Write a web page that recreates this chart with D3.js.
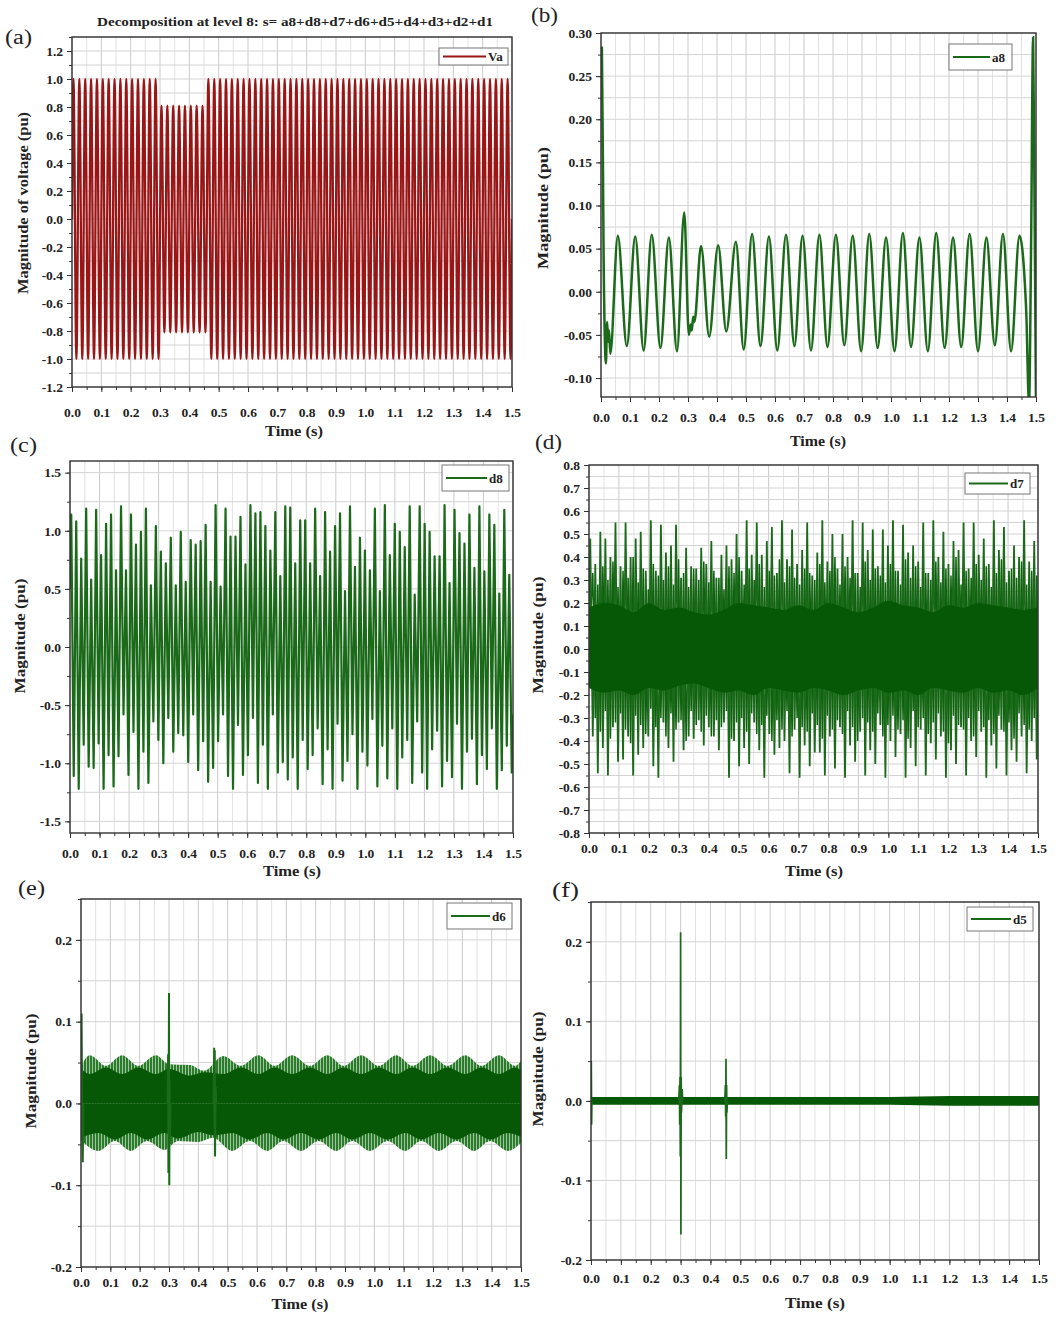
<!DOCTYPE html>
<html>
<head>
<meta charset="utf-8">
<script src="https://cdn.jsdelivr.net/npm/d3@7"></script>
<style>
  body { margin: 0; background: #fff; }
  svg { display: block; font-family: "Liberation Serif", "Times New Roman", serif; }
</style>
</head>
<body>
<svg id="fig" width="1062" height="1325"></svg>
<script>
// ---------- shared axis values ----------
const timeTicks = [0.0, 0.1, 0.2, 0.3, 0.4, 0.5, 0.6, 0.7, 0.8, 0.9, 1.0, 1.1, 1.2, 1.3, 1.4, 1.5];
const vaTicks = [-1.2, -1.0, -0.8, -0.6, -0.4, -0.2, 0.0, 0.2, 0.4, 0.6, 0.8, 1.0, 1.2];
const a8Ticks = [-0.10, -0.05, 0.00, 0.05, 0.10, 0.15, 0.20, 0.25, 0.30];
const d8Ticks = [-1.5, -1.0, -0.5, 0.0, 0.5, 1.0, 1.5];
const d7Ticks = [-0.8, -0.7, -0.6, -0.5, -0.4, -0.3, -0.2, -0.1, 0.0, 0.1, 0.2, 0.3, 0.4, 0.5, 0.6, 0.7, 0.8];
const d6Ticks = [-0.2, -0.1, 0.0, 0.1, 0.2];
const d5Ticks = [-0.2, -0.1, 0.0, 0.1, 0.2];

// ---------- (a) supply voltage Va: peak value of each 50 Hz cycle (sag 0.30-0.46 s) ----------
const vaAmp = [
  1, 1, 1, 1, 1, 1, 1, 1, 1, 1, 1, 1, 1, 1, 1,
  0.81, 0.81, 0.81, 0.81, 0.81, 0.81, 0.81, 0.81,
  1, 1, 1, 1, 1, 1, 1, 1, 1, 1, 1, 1, 1, 1, 1, 1, 1, 1, 1, 1, 1, 1, 1, 1, 1, 1,
  1, 1, 1, 1, 1, 1, 1, 1, 1, 1, 1, 1, 1, 1, 1, 1, 1, 1, 1, 1, 1, 1, 1, 1, 1, 1
];

// ---------- (b) approximation a8: turning points [time, value] ----------
const a8Points = [
  [0.000, 0.270], [0.003, 0.283], [0.009, 0.040], [0.017, -0.083], [0.021, -0.035], [0.025, -0.058],
  [0.028, -0.045], [0.032, -0.072], [0.058, 0.065], [0.089, -0.063], [0.118, 0.064], [0.147, -0.068],
  [0.175, 0.066], [0.205, -0.065], [0.234, 0.063], [0.262, -0.069], [0.287, 0.092], [0.303, -0.050],
  [0.309, -0.038], [0.313, -0.045], [0.318, -0.029], [0.322, -0.035], [0.345, 0.053], [0.373, -0.052],
  [0.404, 0.054], [0.432, -0.046], [0.465, 0.058], [0.492, -0.067], [0.521, 0.067], [0.550, -0.063],
  [0.579, 0.064], [0.608, -0.068], [0.638, 0.066], [0.667, -0.063], [0.695, 0.065], [0.724, -0.068],
  [0.753, 0.066], [0.781, -0.064], [0.810, 0.066], [0.839, -0.062], [0.868, 0.065], [0.897, -0.069],
  [0.925, 0.067], [0.954, -0.065], [0.983, 0.063], [1.012, -0.069], [1.041, 0.068], [1.069, -0.064],
  [1.098, 0.063], [1.127, -0.069], [1.156, 0.068], [1.185, -0.065], [1.214, 0.063], [1.242, -0.064],
  [1.271, 0.067], [1.300, -0.069], [1.329, 0.063], [1.358, -0.062], [1.386, 0.067], [1.414, -0.069],
  [1.443, 0.065], [1.466, -0.020], [1.476, -0.130], [1.483, 0.050], [1.490, 0.295], [1.495, 0.100],
  [1.500, -0.130]
];

// ---------- (c) detail d8: positive and negative peak of each cycle ----------
const d8Max = [
  1.14, 1.08, 0.76, 1.19, 0.58, 1.18, 0.79, 1.06, 1.14, 0.66, 1.21, 0.66, 1.14, 0.88, 0.99,
  1.19, 0.53, 1.04, 0.82, 0.72, 0.94, 0.53, 0.99, 0.56, 0.92, 0.88, 0.91, 1.05, 0.56, 1.22,
  0.52, 1.19, 0.95, 0.95, 1.12, 0.71, 1.22, 1.15, 1.16, 1.04, 0.83, 1.16, 0.61, 1.21,
  1.20, 0.72, 1.09, 1.09, 0.72, 1.19, 0.61, 1.16, 0.82, 1.04, 1.15, 0.48, 1.21, 0.69, 0.94,
  0.83, 0.66, 1.19, 0.48, 1.22, 0.79, 1.06, 0.99, 0.86, 1.21, 0.45, 1.21, 1.06, 0.99, 0.78,
  0.78, 1.22, 0.55, 1.18, 0.98, 0.89, 1.14, 0.68, 1.21, 0.65, 1.14, 1.05, 0.46, 1.18, 0.62
];
const d8Min = [
  -1.11, -1.22, -0.84, -1.03, -1.04, -0.83, -1.22, -0.93, -1.20, -0.94, -0.58, -1.10, -0.73, -1.22, -0.90,
  -1.17, -0.64, -0.80, -1.00, -0.61, -0.90, -0.74, -0.76, -0.99, -0.58, -1.06, -0.81, -1.16, -1.04, -0.81,
  -0.58, -1.11, -1.22, -0.67, -1.10, -0.93, -0.61, -1.17, -0.84, -1.22, -0.58, -1.08, -0.99, -1.14,
  -0.95, -1.22, -0.80, -1.05, -0.93, -0.70, -1.18, -0.88, -1.22, -0.66, -1.15, -0.98, -0.75, -1.22, -0.90,
  -1.02, -0.62, -1.20, -0.85, -1.13, -0.70, -1.22, -0.95, -0.80, -1.17, -0.64, -1.08, -1.22, -0.88, -0.72,
  -1.20, -0.98, -1.12, -0.66, -1.22, -0.90, -0.79, -1.18, -0.93, -1.05, -0.70, -1.22, -1.06, -0.85, -1.08
];

// ---------- (d) detail d7: main cycle peaks, in-between peaks, dense band around zero ----------
const d7Max = [
  0.48, 0.37, 0.51, 0.48, 0.40, 0.55, 0.36, 0.55, 0.40, 0.48, 0.51, 0.34, 0.56, 0.34, 0.54,
  0.42, 0.45, 0.54, 0.31, 0.44, 0.36, 0.35, 0.44, 0.37, 0.47, 0.31, 0.41, 0.45, 0.39, 0.50,
  0.34, 0.56, 0.41, 0.55, 0.41, 0.47, 0.53, 0.33, 0.56, 0.39, 0.52, 0.37, 0.43, 0.55, 0.32,
  0.42, 0.56, 0.38, 0.50, 0.35, 0.50, 0.40, 0.56, 0.33, 0.55, 0.43, 0.52, 0.36, 0.52, 0.45,
  0.56, 0.34, 0.54, 0.42, 0.45, 0.38, 0.55, 0.33, 0.56, 0.40, 0.51, 0.37, 0.47, 0.43, 0.55,
  0.35, 0.55, 0.41, 0.48, 0.37, 0.56, 0.43, 0.53, 0.34, 0.45, 0.40, 0.56, 0.38, 0.47
];
const d7Min = [
  -0.38, -0.54, -0.43, -0.55, -0.34, -0.49, -0.48, -0.38, -0.55, -0.46, -0.43, -0.38, -0.51, -0.56, -0.32,
  -0.43, -0.49, -0.32, -0.44, -0.38, -0.39, -0.31, -0.42, -0.34, -0.38, -0.44, -0.32, -0.56, -0.40, -0.51,
  -0.43, -0.50, -0.32, -0.44, -0.56, -0.37, -0.46, -0.43, -0.40, -0.54, -0.35, -0.56, -0.42, -0.51, -0.45,
  -0.45, -0.55, -0.38, -0.52, -0.34, -0.56, -0.42, -0.49, -0.36, -0.55, -0.44, -0.50, -0.33, -0.56, -0.40,
  -0.47, -0.37, -0.56, -0.43, -0.51, -0.35, -0.55, -0.41, -0.48, -0.38, -0.56, -0.44, -0.50, -0.34, -0.55,
  -0.40, -0.47, -0.36, -0.56, -0.42, -0.52, -0.35, -0.55, -0.44, -0.49, -0.38, -0.54, -0.40, -0.48
];
const d7MidMax = [
  0.33, 0.28, 0.36, 0.30, 0.38, 0.27, 0.34, 0.31, 0.40, 0.29, 0.35, 0.26, 0.37, 0.32, 0.30,
  0.36, 0.28, 0.39, 0.33, 0.27, 0.35, 0.30, 0.38, 0.29, 0.34, 0.31, 0.26, 0.36, 0.33, 0.40,
  0.28, 0.35, 0.30, 0.37, 0.27, 0.34, 0.32, 0.39, 0.29, 0.36, 0.31, 0.28, 0.35, 0.33, 0.30,
  0.37, 0.29, 0.34, 0.40, 0.28, 0.36, 0.31, 0.33, 0.27, 0.38, 0.30, 0.35, 0.32, 0.29, 0.37,
  0.34, 0.28, 0.39, 0.31, 0.36, 0.27, 0.33, 0.30, 0.38, 0.29, 0.35, 0.32, 0.40, 0.28, 0.34,
  0.31, 0.37, 0.30, 0.36, 0.27, 0.33, 0.39, 0.29, 0.35, 0.31, 0.38, 0.28, 0.34, 0.32
];
const d7MidMin = [
  -0.30, -0.36, -0.27, -0.39, -0.32, -0.28, -0.35, -0.41, -0.29, -0.33, -0.37, -0.26, -0.34, -0.30, -0.38,
  -0.28, -0.35, -0.31, -0.40, -0.27, -0.33, -0.36, -0.29, -0.38, -0.31, -0.34, -0.27, -0.39, -0.32, -0.30,
  -0.36, -0.28, -0.37, -0.33, -0.29, -0.40, -0.31, -0.35, -0.27, -0.38, -0.30, -0.34, -0.36, -0.28, -0.33,
  -0.39, -0.29, -0.35, -0.31, -0.37, -0.27, -0.34, -0.40, -0.30, -0.32, -0.36, -0.28, -0.38, -0.33, -0.29,
  -0.35, -0.31, -0.39, -0.27, -0.34, -0.30, -0.37, -0.32, -0.28, -0.36, -0.41, -0.29, -0.33, -0.35, -0.30,
  -0.38, -0.27, -0.34, -0.31, -0.37, -0.29, -0.36, -0.32, -0.39, -0.28, -0.33, -0.35, -0.30, -0.34
];
const d7BandHi = [
  [0.00, 0.18], [0.05, 0.20], [0.10, 0.19], [0.15, 0.16], [0.20, 0.20], [0.25, 0.17], [0.30, 0.18],
  [0.35, 0.16], [0.40, 0.15], [0.45, 0.17], [0.50, 0.20], [0.55, 0.19], [0.60, 0.18], [0.65, 0.17],
  [0.70, 0.19], [0.75, 0.17], [0.80, 0.20], [0.85, 0.18], [0.90, 0.16], [0.95, 0.18], [1.00, 0.21],
  [1.05, 0.19], [1.10, 0.18], [1.15, 0.16], [1.20, 0.19], [1.25, 0.18], [1.30, 0.20], [1.35, 0.19],
  [1.40, 0.18], [1.45, 0.17], [1.50, 0.18]
];
const d7BandLo = [
  [0.00, -0.17], [0.05, -0.19], [0.10, -0.18], [0.15, -0.20], [0.20, -0.17], [0.25, -0.18], [0.30, -0.16],
  [0.35, -0.15], [0.40, -0.17], [0.45, -0.19], [0.50, -0.18], [0.55, -0.20], [0.60, -0.17], [0.65, -0.18],
  [0.70, -0.19], [0.75, -0.17], [0.80, -0.18], [0.85, -0.20], [0.90, -0.18], [0.95, -0.17], [1.00, -0.19],
  [1.05, -0.18], [1.10, -0.20], [1.15, -0.17], [1.20, -0.18], [1.25, -0.19], [1.30, -0.17], [1.35, -0.19],
  [1.40, -0.18], [1.45, -0.20], [1.50, -0.17]
];

// ---------- (e) detail d6: outer envelope, dense core, transient spikes ----------
const d6OuterHi = [
  [0.000, 0.045], [0.030, 0.059], [0.085, 0.046], [0.140, 0.059], [0.195, 0.046], [0.255, 0.059],
  [0.300, 0.048], [0.370, 0.047], [0.420, 0.040], [0.485, 0.058], [0.545, 0.046], [0.605, 0.059],
  [0.660, 0.046], [0.720, 0.059], [0.780, 0.046], [0.840, 0.059], [0.895, 0.046], [0.955, 0.059],
  [1.015, 0.046], [1.075, 0.059], [1.130, 0.046], [1.190, 0.059], [1.250, 0.046], [1.310, 0.059],
  [1.365, 0.046], [1.425, 0.059], [1.480, 0.046], [1.500, 0.052]
];
const d6OuterLo = [
  [0.000, -0.045], [0.060, -0.058], [0.115, -0.046], [0.170, -0.058], [0.225, -0.046], [0.285, -0.057],
  [0.330, -0.046], [0.400, -0.047], [0.450, -0.042], [0.515, -0.058], [0.575, -0.046], [0.635, -0.058],
  [0.690, -0.046], [0.750, -0.058], [0.810, -0.046], [0.870, -0.058], [0.925, -0.046], [0.985, -0.058],
  [1.045, -0.046], [1.105, -0.058], [1.160, -0.046], [1.220, -0.058], [1.280, -0.046], [1.340, -0.058],
  [1.395, -0.046], [1.455, -0.058], [1.500, -0.048]
];
const d6CoreHi = [
  [0.000, 0.042], [0.030, 0.036], [0.085, 0.044], [0.140, 0.036], [0.195, 0.044], [0.255, 0.036],
  [0.300, 0.042], [0.370, 0.034], [0.420, 0.038], [0.485, 0.036], [0.545, 0.044], [0.605, 0.036],
  [0.660, 0.044], [0.720, 0.036], [0.780, 0.044], [0.840, 0.036], [0.895, 0.044], [0.955, 0.036],
  [1.015, 0.044], [1.075, 0.036], [1.130, 0.044], [1.190, 0.036], [1.250, 0.044], [1.310, 0.036],
  [1.365, 0.044], [1.425, 0.036], [1.480, 0.044], [1.500, 0.040]
];
const d6CoreLo = [
  [0.000, -0.042], [0.060, -0.036], [0.115, -0.044], [0.170, -0.036], [0.225, -0.044], [0.285, -0.036],
  [0.330, -0.043], [0.400, -0.035], [0.450, -0.039], [0.515, -0.036], [0.575, -0.044], [0.635, -0.036],
  [0.690, -0.044], [0.750, -0.036], [0.810, -0.044], [0.870, -0.036], [0.925, -0.044], [0.985, -0.036],
  [1.045, -0.044], [1.105, -0.036], [1.160, -0.044], [1.220, -0.036], [1.280, -0.044], [1.340, -0.036],
  [1.395, -0.044], [1.455, -0.036], [1.500, -0.041]
];
const d6Spikes = [
  [[0.000, 0.000], [0.002, 0.110], [0.004, -0.020], [0.006, -0.072], [0.008, 0.000]],
  [[0.295, 0.000], [0.297, 0.060], [0.298, -0.085], [0.300, 0.135], [0.301, -0.100], [0.302, 0.030], [0.303, -0.050], [0.305, 0.000]],
  [[0.452, 0.000], [0.454, 0.068], [0.455, -0.030], [0.456, 0.065], [0.457, -0.065], [0.459, 0.020], [0.461, 0.000]]
];

// ---------- (f) detail d5: thin band around zero and transient spikes ----------
const d5BandHi = [[0.0, 0.005], [0.6, 0.005], [1.0, 0.005], [1.2, 0.006], [1.5, 0.006]];
const d5BandLo = [[0.0, -0.005], [0.6, -0.005], [1.0, -0.005], [1.2, -0.006], [1.5, -0.006]];
const d5Spikes = [
  [[0.000, 0.000], [0.001, 0.050], [0.002, -0.030], [0.003, 0.000]],
  [[0.294, 0.000], [0.296, 0.020], [0.297, -0.030], [0.298, 0.030], [0.299, -0.070], [0.300, 0.212],
   [0.301, -0.168], [0.302, 0.030], [0.303, -0.015], [0.305, 0.015], [0.307, 0.000]],
  [[0.448, 0.000], [0.450, 0.020], [0.451, -0.020], [0.452, 0.053], [0.453, -0.073], [0.454, 0.020],
   [0.455, -0.015], [0.457, 0.000]]
];

// ---------- drawing ----------
const svg = d3.select("#fig");
const RED = "#9a1616";
const GREEN = "#1a6a1a";
const DARK = "#065806";

// vertical hatch used for the outer ripple of d6
const defs = svg.append("defs");
const hatch = defs.append("pattern").attr("id", "hatch").attr("patternUnits", "userSpaceOnUse")
  .attr("width", 3).attr("height", 10);
hatch.append("rect").attr("width", 3).attr("height", 10).attr("fill", "#9cc79c");
hatch.append("rect").attr("width", 2).attr("height", 10).attr("fill", "#2c7a2c");

function minorBetween(ticks, lo, hi) {
  const step = ticks[1] - ticks[0];
  const out = [];
  for (let v = ticks[0] - step / 2; v <= hi + 1e-9; v += step / 2) {
    if (v >= lo - 1e-9) out.push(+v.toFixed(6));
  }
  return out;
}

function panel(cfg) {
  const x = d3.scaleLinear().domain([0, 1.5]).range([cfg.left, cfg.right]);
  const y = d3.scaleLinear().domain(cfg.yDomain).range([cfg.bottom, cfg.top]);
  const g = svg.append("g");
  const clipId = "clip-" + cfg.key;
  defs.append("clipPath").attr("id", clipId).append("rect")
    .attr("x", cfg.left).attr("y", cfg.top)
    .attr("width", cfg.right - cfg.left).attr("height", cfg.bottom - cfg.top);

  const xMinor = minorBetween(timeTicks, 0, 1.5);
  const yMinor = minorBetween(cfg.yTicks, cfg.yDomain[0], cfg.yDomain[1]);

  const grid = g.append("g");
  grid.selectAll("line.gx").data(xMinor).join("line").attr("class", "gx")
    .attr("x1", d => x(d)).attr("x2", d => x(d))
    .attr("y1", cfg.top).attr("y2", cfg.bottom)
    .attr("stroke", (d, i) => i % 2 === 0 ? "#cbcbcb" : "#e2e2e2").attr("stroke-width", 1);
  grid.selectAll("line.gy").data(yMinor).join("line").attr("class", "gy")
    .attr("x1", cfg.left).attr("x2", cfg.right)
    .attr("y1", d => y(d)).attr("y2", d => y(d))
    .attr("stroke", "#d4d4d4").attr("stroke-width", 1);

  const plot = g.append("g").attr("clip-path", `url(#${clipId})`);
  const line = d3.line().x(d => x(d[0])).y(d => y(d[1]));
  return { g, x, y, plot, cfg, xMinor, yMinor, line };
}

function finish(p) {
  const { g, x, y, cfg } = p;
  const f = d3.format(cfg.fmt);
  g.append("g").attr("transform", `translate(0,${cfg.bottom})`)
    .call(d3.axisBottom(x).tickValues(p.xMinor).tickSize(3).tickFormat(""))
    .call(s => s.select(".domain").remove());
  g.append("g").attr("transform", `translate(${cfg.left},0)`)
    .call(d3.axisLeft(y).tickValues(p.yMinor).tickSize(3).tickFormat(""))
    .call(s => s.select(".domain").remove());
  const ax = g.append("g").attr("transform", `translate(0,${cfg.bottom})`)
    .call(d3.axisBottom(x).tickValues(timeTicks).tickSize(5).tickPadding(cfg.xPad)
      .tickFormat(d3.format(".1f")));
  const ay = g.append("g").attr("transform", `translate(${cfg.left},0)`)
    .call(d3.axisLeft(y).tickValues(cfg.yTicks).tickSize(5).tickPadding(4)
      .tickFormat(d => f(d).replace("\u2212", "-")));
  [ax, ay].forEach(a => {
    a.selectAll("text").attr("font-family", '"Liberation Serif", serif')
      .attr("font-weight", "bold").attr("font-size", 13.5).attr("fill", "#222");
    a.select(".domain").remove();
  });
  g.selectAll(".tick line").attr("stroke", "#333").attr("stroke-width", 1);

  g.append("rect").attr("x", cfg.left).attr("y", cfg.top)
    .attr("width", cfg.right - cfg.left).attr("height", cfg.bottom - cfg.top)
    .attr("fill", "none").attr("stroke", "#333").attr("stroke-width", 1.4);

  const L = cfg.legend;
  const lg = g.append("g");
  lg.append("rect").attr("x", L[0]).attr("y", L[1]).attr("width", L[2]).attr("height", L[3])
    .attr("fill", "#fff").attr("stroke", "#777").attr("stroke-width", 1);
  lg.append("line").attr("x1", L[0] + 4).attr("x2", L[0] + L[2] - 22)
    .attr("y1", L[1] + L[3] / 2).attr("y2", L[1] + L[3] / 2)
    .attr("stroke", cfg.color).attr("stroke-width", 2);
  lg.append("text").attr("x", L[0] + L[2] - 20).attr("y", L[1] + L[3] / 2 + 4.5)
    .attr("font-weight", "bold").attr("font-size", 13).attr("fill", "#222").text(cfg.name);

  g.append("text").attr("x", cfg.xTitle[0]).attr("y", cfg.xTitle[1])
    .attr("text-anchor", "middle").attr("font-weight", "bold").attr("font-size", 15.5)
    .attr("textLength", cfg.xTitle[2]).attr("lengthAdjust", "spacingAndGlyphs")
    .attr("fill", "#222").text("Time (s)");
  g.append("text")
    .attr("transform", `translate(${cfg.yTitle[0]},${cfg.yTitle[1]}) rotate(-90)`)
    .attr("text-anchor", "middle").attr("font-weight", "bold").attr("font-size", 15.5)
    .attr("textLength", cfg.yTitle[2]).attr("lengthAdjust", "spacingAndGlyphs")
    .attr("fill", "#222").text(cfg.yLabel);
  g.append("text").attr("x", cfg.tag[0]).attr("y", cfg.tag[1])
    .attr("font-size", 20).attr("textLength", 27).attr("lengthAdjust", "spacingAndGlyphs")
    .attr("fill", "#222").text(cfg.tagText);
}

// peaks of each cycle -> alternating turning points on a uniform cycle grid
function cyclePoints(maxArr, minArr, startVal, endVal, phase) {
  const P = 1.5 / maxArr.length;
  const ph = phase || 0;
  const pts = [[0, startVal]];
  maxArr.forEach((v, i) => {
    pts.push([(i + 0.25 + ph) * P, v]);
    pts.push([(i + 0.75 + ph) * P, minArr[i]]);
  });
  pts.push([1.5, endVal]);
  return pts;
}

// ---- (a) Va ----
{
  const p = panel({ key: "a", left: 72, right: 512, top: 37, bottom: 387, yDomain: [-1.2, 1.3],
    yTicks: vaTicks, fmt: ".1f", xPad: 15, color: RED, name: "Va",
    legend: [439, 48, 69, 17], xTitle: [294, 436, 58], yTitle: [28, 203, 182],
    yLabel: "Magnitude of voltage (pu)", tag: [5, 44], tagText: "(a)" });
  const T = 1.5 / vaAmp.length;
  const pts = [[0, 0]];
  vaAmp.forEach((A, i) => { pts.push([(i + 0.25) * T, A]); pts.push([(i + 0.75) * T, -A]); });
  pts.push([1.5, 0]);
  p.plot.append("path").datum(pts).attr("d", p.line.curve(d3.curveMonotoneX))
    .attr("fill", "none").attr("stroke", RED).attr("stroke-width", 2.3);
  finish(p);
  svg.append("text").attr("x", 295).attr("y", 26).attr("text-anchor", "middle")
    .attr("font-weight", "bold").attr("font-size", 13.5)
    .attr("textLength", 396).attr("lengthAdjust", "spacingAndGlyphs").attr("fill", "#222")
    .text("Decomposition at level 8: s= a8+d8+d7+d6+d5+d4+d3+d2+d1");
}

// ---- (b) a8 ----
{
  const p = panel({ key: "b", left: 601, right: 1036, top: 33, bottom: 397, yDomain: [-0.122, 0.30],
    yTicks: a8Ticks, fmt: ".2f", xPad: 10, color: GREEN, name: "a8",
    legend: [949, 44, 63, 26], xTitle: [818, 446, 56], yTitle: [548, 208, 122],
    yLabel: "Magnitude (pu)", tag: [531, 22], tagText: "(b)" });
  p.plot.append("path").datum(a8Points).attr("d", p.line.curve(d3.curveMonotoneX))
    .attr("fill", "none").attr("stroke", GREEN).attr("stroke-width", 2.5);
  finish(p);
}

// ---- (c) d8 ----
{
  const p = panel({ key: "c", left: 70, right: 513, top: 461, bottom: 833, yDomain: [-1.6, 1.6],
    yTicks: d8Ticks, fmt: ".1f", xPad: 10, color: GREEN, name: "d8",
    legend: [442, 465, 67, 26], xTitle: [292, 876, 58], yTitle: [25, 636, 115],
    yLabel: "Magnitude (pu)", tag: [10, 452], tagText: "(c)" });
  p.plot.append("path").datum(cyclePoints(d8Max, d8Min, 0.5, -0.58))
    .attr("d", p.line.curve(d3.curveLinear))
    .attr("fill", "none").attr("stroke", GREEN).attr("stroke-width", 2.2)
    .attr("stroke-linejoin", "round");
  finish(p);
}

// ---- (d) d7 ----
{
  const p = panel({ key: "d", left: 589, right: 1038, top: 465, bottom: 833, yDomain: [-0.8, 0.8],
    yTicks: d7Ticks, fmt: ".1f", xPad: 5, color: GREEN, name: "d7",
    legend: [965, 473, 65, 21], xTitle: [814, 876, 58], yTitle: [543, 635, 117],
    yLabel: "Magnitude (pu)", tag: [535, 449], tagText: "(d)" });
  p.plot.append("path").datum(cyclePoints(d7MidMax, d7MidMin, 0.0, 0.0, 0.5))
    .attr("d", p.line.curve(d3.curveLinear))
    .attr("fill", "none").attr("stroke", "#0f620f").attr("stroke-width", 1.5);
  p.plot.append("path").datum(cyclePoints(d7Max, d7Min, 0.0, 0.0))
    .attr("d", p.line.curve(d3.curveLinear))
    .attr("fill", "none").attr("stroke", GREEN).attr("stroke-width", 1.8);
  const band = d7BandHi.map((d, i) => [d[0], d[1], d7BandLo[i][1]]);
  p.plot.append("path").datum(band)
    .attr("d", d3.area().x(d => p.x(d[0])).y0(d => p.y(d[2])).y1(d => p.y(d[1])).curve(d3.curveMonotoneX))
    .attr("fill", DARK);
  finish(p);
}

// ---- (e) d6 ----
{
  const p = panel({ key: "e", left: 81, right: 521, top: 899, bottom: 1267, yDomain: [-0.2, 0.25],
    yTicks: d6Ticks, fmt: ".1f", xPad: 5, color: GREEN, name: "d6",
    legend: [447, 903, 65, 26], xTitle: [300, 1309, 57], yTitle: [36, 1071, 115],
    yLabel: "Magnitude (pu)", tag: [18, 895], tagText: "(e)" });
  const area = d3.area().x(d => p.x(d[0])).y0(p.y(0)).y1(d => p.y(d[1])).curve(d3.curveMonotoneX);
  [d6OuterHi, d6OuterLo].forEach(env => {
    p.plot.append("path").datum(env).attr("d", area).attr("fill", "url(#hatch)");
  });
  [d6CoreHi, d6CoreLo].forEach(env => {
    p.plot.append("path").datum(env).attr("d", area).attr("fill", DARK);
  });
  d6Spikes.forEach(s => {
    p.plot.append("path").datum(s).attr("d", p.line.curve(d3.curveLinear))
      .attr("fill", "none").attr("stroke", GREEN).attr("stroke-width", 2);
  });
  finish(p);
}

// ---- (f) d5 ----
{
  const p = panel({ key: "f", left: 591, right: 1039, top: 902, bottom: 1260, yDomain: [-0.2, 0.25],
    yTicks: d5Ticks, fmt: ".1f", xPad: 8, color: GREEN, name: "d5",
    legend: [967, 907, 66, 24], xTitle: [815, 1308, 60], yTitle: [543, 1069, 115],
    yLabel: "Magnitude (pu)", tag: [552, 897], tagText: "(f)" });
  const band = d5BandHi.map((d, i) => [d[0], d[1], d5BandLo[i][1]]);
  p.plot.append("path").datum(band)
    .attr("d", d3.area().x(d => p.x(d[0])).y0(d => p.y(d[2])).y1(d => p.y(d[1])))
    .attr("fill", DARK);
  d5Spikes.forEach(s => {
    p.plot.append("path").datum(s).attr("d", p.line.curve(d3.curveLinear))
      .attr("fill", "none").attr("stroke", GREEN).attr("stroke-width", 1.7);
  });
  finish(p);
}
</script>
</body>
</html>
